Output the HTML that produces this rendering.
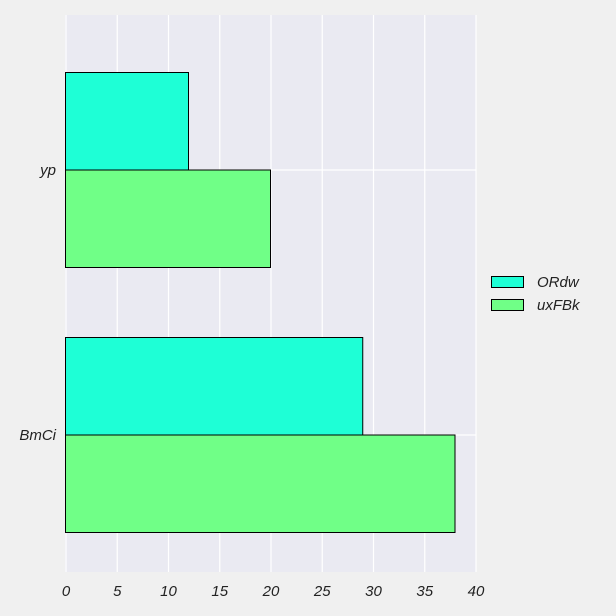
<!DOCTYPE html>
<html><head><meta charset="utf-8"><style>
body{margin:0;background:#f0f0f0;}
svg{display:block;font-family:"Liberation Sans",sans-serif;font-style:italic;}
</style></head><body>
<svg id="c" width="616" height="616"></svg>
<script>
const categories=["yp","BmCi"];
const seriesNames=["ORdw","uxFBk"];
const ordwValues=[12,29];
const uxfbkValues=[20,38];
const xTicks=[0,5,10,15,20,25,30,35,40];
const colors=["#1effd6","#70ff87"];
const NS="http://www.w3.org/2000/svg";
const svg=document.getElementById('c');
const L=66,R=476,T=15,B=572;
const xs=v=>L+(v-0)/(40-0)*(R-L);
const catY=[170,435];
const barH=97.5;
function mk(t,a,p){const e=document.createElementNS(NS,t);for(const k in a)e.setAttribute(k,a[k]);(p||svg).appendChild(e);return e;}
const bg=mk('rect',{x:L-1,y:T,width:R-L+1,height:B-T,fill:'#eaeaf2'});


xTicks.forEach(t=>{
 const g=mk('line',{x1:xs(t),x2:xs(t),y1:T,y2:B,stroke:'#fff','stroke-width':1.2});
 
 
 const lb=mk('text',{x:xs(t),y:596,'text-anchor':'middle','font-size':15,fill:'#222'});
 lb.textContent=t;
 
 
});
categories.forEach((c,i)=>{
 const g=mk('line',{x1:L,x2:R,y1:catY[i],y2:catY[i],stroke:'#fff','stroke-width':1.2});
 
 
 const lb=mk('text',{x:56,y:catY[i]+5,'text-anchor':'end','font-size':15,fill:'#222'});
 lb.textContent=c;
 
 
});
[ordwValues,uxfbkValues].forEach((vals,s)=>{
 vals.forEach((v,i)=>{
  const y=s===0?catY[i]-barH:catY[i];
  const r=mk('rect',{x:xs(0)-0.5,y:y,width:xs(v)-xs(0),height:barH,fill:colors[s],stroke:'#000','stroke-width':1});
  
  
 });
});
seriesNames.forEach((n,s)=>{
 const r=mk('rect',{x:491.5,y:276.5+s*23,width:32,height:11,fill:colors[s],stroke:'#000','stroke-width':1});
 
 
 const t=mk('text',{x:537,y:287+s*23,'font-size':15,fill:'#222'});
 t.textContent=n;
 
 
});
</script>
</body></html>
